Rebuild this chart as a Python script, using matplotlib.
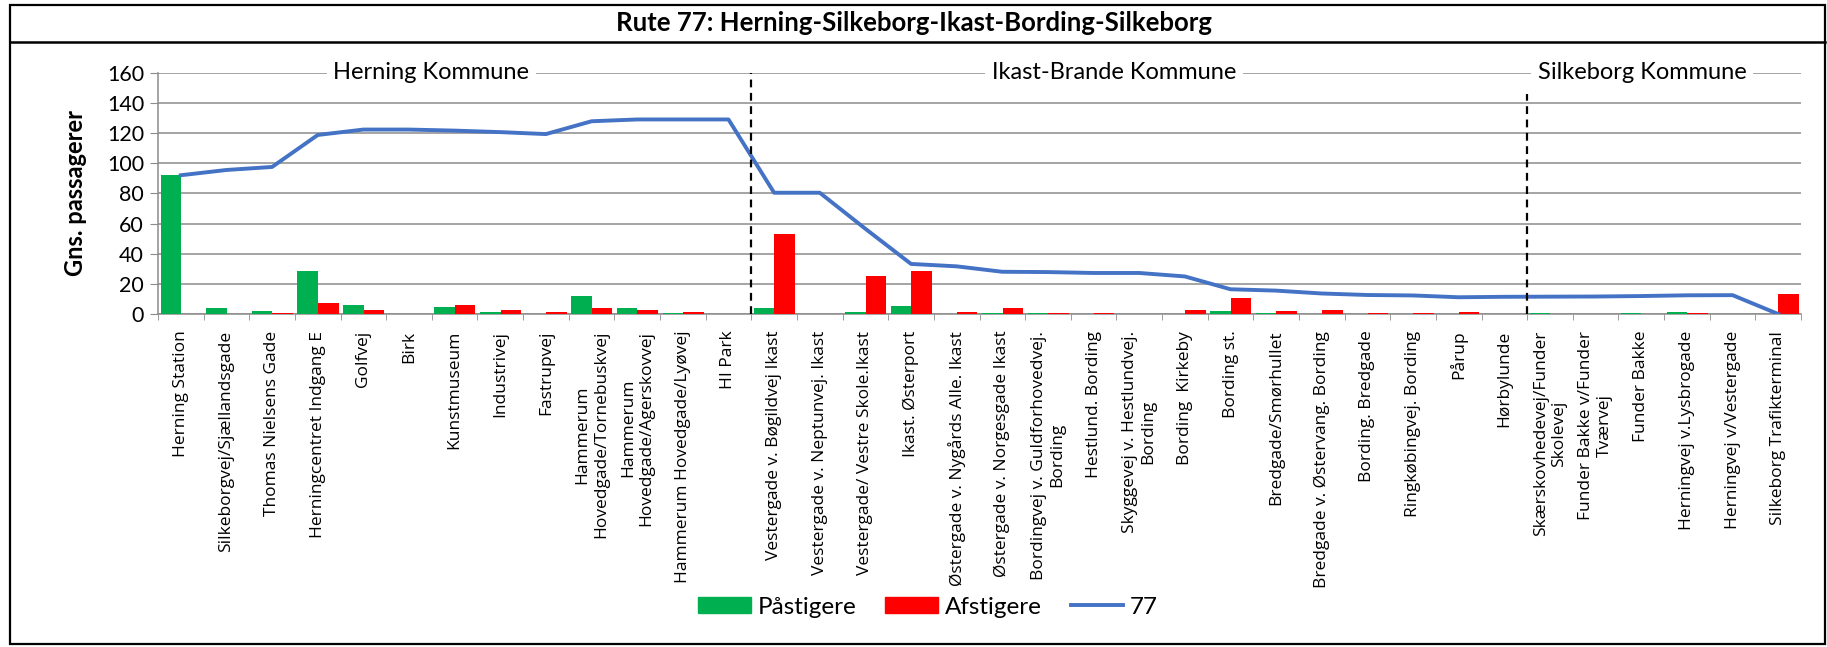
import matplotlib
matplotlib.use("Agg")
import matplotlib.pyplot as plt
from matplotlib.patches import Patch, Rectangle
from matplotlib.lines import Line2D
import numpy as np

stops = [
    "Herning Station", "Silkeborgvej/Sjællandsgade", "Thomas Nielsens Gade",
    "Herningcentret Indgang E", "Golfvej", "Birk", "Kunstmuseum", "Industrivej",
    "Fastrupvej", "Hammerum\nHovedgade/Tornebuskvej", "Hammerum\nHovedgade/Agerskovvej",
    "Hammerum Hovedgade/Lyøvej", "HI Park", "Vestergade v. Bøgildvej Ikast",
    "Vestergade v. Neptunvej. Ikast", "Vestergade/ Vestre Skole.Ikast",
    "Ikast. Østerport", "Østergade v. Nygårds Alle. Ikast",
    "Østergade v. Norgesgade Ikast", "Bordingvej v. Guldforhovedvej.\nBording",
    "Hestlund. Bording", "Skyggevej v. Hestlundvej.\nBording", "Bording  Kirkeby",
    "Bording st.", "Bredgade/Smørhullet", "Bredgade v. Østervang. Bording",
    "Bording. Bredgade", "Ringkøbingvej. Bording", "Pårup", "Hørbylunde",
    "Skærskovhedevej/Funder\nSkolevej", "Funder Bakke v/Funder\nTværvej",
    "Funder Bakke", "Herningvej v.Lysbrogade", "Herningvej v/Vestergade",
    "Silkeborg Trafikterminal",
]

paastigere = [92, 3.8, 2.2, 28.7, 6.0, 0, 4.9, 1.6, 0, 12.2, 4.0, 0.6, 0,
              4.0, 0, 1.3, 5.5, 0, 0.6, 0.4, 0, 0, 0.3, 2.1, 0.6, 0.3,
              0, 0, 0, 0, 0.4, 0, 0.5, 1.0, 0, 0]
afstigere = [0, 0, 0.6, 7.3, 2.7, 0, 5.7, 2.9, 1.3, 3.7, 2.6, 1.1, 0,
             53, 0, 25.5, 28.7, 1.5, 4.2, 0.5, 0.6, 0, 2.9, 10.4, 1.8, 2.4,
             0.6, 0.6, 1.3, 0, 0, 0.2, 0.2, 0.5, 0, 13.3]
rute77 = [92, 95.5, 97.5, 118.7, 122.3, 122.3, 121.6, 120.6, 119.3, 127.8,
          129, 129, 129, 80.4, 80.4, 56.5, 33.2, 31.6, 28, 27.8, 27.2, 27.2,
          24.9, 16.4, 15.5, 13.6, 12.6, 12.3, 11.1, 11.4, 11.5, 11.6, 11.9,
          12.4, 12.5, 0]

kommuner = ["Herning Kommune", "Ikast-Brande Kommune", "Silkeborg Kommune"]
kommune_pos = [5.49, 20.45, 32.02]
kommune_grænser = [12.5, 29.5]
yticks = [0, 20, 40, 60, 80, 100, 120, 140, 160]

GREEN = "#00B050"
RED = "#FF0000"
BLUE = "#4472C4"
GRID = "#8C8C8C"

W, H = 1827, 647
fig = plt.figure(figsize=(W / 100, H / 100), dpi=100)

# outer frame and header
fig.add_artist(Rectangle((10 / W, 1 - 644 / H), (1825 - 10) / W, (644 - 5) / H,
                         transform=fig.transFigure, fill=False, lw=1.6, ec="black"))
fig.add_artist(Line2D([10 / W, 1825 / W], [1 - 41.7 / H] * 2,
                      transform=fig.transFigure, color="black", lw=1.8))
fig.text(0.5, 1 - 23 / H, "Rute 77: Herning-Silkeborg-Ikast-Bording-Silkeborg",
         ha="center", va="center", fontsize=18.5, fontweight="bold", family="Lato")

left, right = 158 / W, 1801 / W
bottom, top = 1 - 314 / H, 1 - 72.7 / H
ax = fig.add_axes([left, bottom, right - left, top - bottom])

x = np.arange(len(stops))
bw = 0.45
ax.bar(x - bw / 2 + 0.005, paastigere, width=bw, color=GREEN, zorder=3)
ax.bar(x + bw / 2 + 0.005, afstigere, width=bw, color=RED, zorder=3)
ax.plot(x, rute77, color=BLUE, lw=2.8, zorder=4, solid_joinstyle="round")

ax.set_xlim(-0.5, len(stops) - 0.5)
ax.set_ylim(0, 160)
ax.set_yticks(yticks)
ax.set_yticklabels([str(v) for v in yticks], fontsize=15.5, family="Lato")
ax.yaxis.grid(True, color=GRID, lw=1.1, zorder=0)
ax.set_axisbelow(True)
ax.tick_params(axis="y", length=6, color=GRID, pad=4)

ax.set_xticks(x)
ax.set_xticklabels(stops, rotation=90, fontsize=12.5, family="Open Sans",
                   ha="center", va="top", multialignment="center")
ax.tick_params(axis="x", which="major", length=0, pad=12)
ax.set_xticks(np.arange(-0.5, len(stops), 1), minor=True)
ax.tick_params(axis="x", which="minor", length=4, color=GRID)

for s in ["top", "right"]:
    ax.spines[s].set_visible(False)
for s in ["left", "bottom"]:
    ax.spines[s].set_color(GRID)
    ax.spines[s].set_linewidth(1.1)

ax.set_ylabel("Gns. passagerer", fontsize=17, fontweight="bold", family="Lato",
              labelpad=14)

for name, pos in zip(kommuner, kommune_pos):
    ax.text(pos, 160, name, ha="center", va="center", fontsize=17, family="Lato",
            zorder=5, clip_on=False,
            bbox=dict(facecolor="white", edgecolor="none", pad=5))

ax.vlines(kommune_grænser[0], 0, 160, colors="black", lw=1.6,
          linestyles=(0, (3.5, 2.5)), zorder=6)
ax.vlines(kommune_grænser[1], 0, 146, colors="black", lw=1.6,
          linestyles=(0, (3.5, 2.5)), zorder=6)

handles = [Patch(color=GREEN, label="Påstigere"),
           Patch(color=RED, label="Afstigere"),
           Line2D([0], [0], color=BLUE, lw=2.8, label="77")]
fig.legend(handles=handles, loc="center", bbox_to_anchor=(928 / W, 1 - 607 / H),
           ncol=3, frameon=False, prop=dict(family="Lato", size=17.5),
           handlelength=2.18, handleheight=0.62, handletextpad=0.25,
           columnspacing=1.2)

fig.savefig("out.png", dpi=100)
